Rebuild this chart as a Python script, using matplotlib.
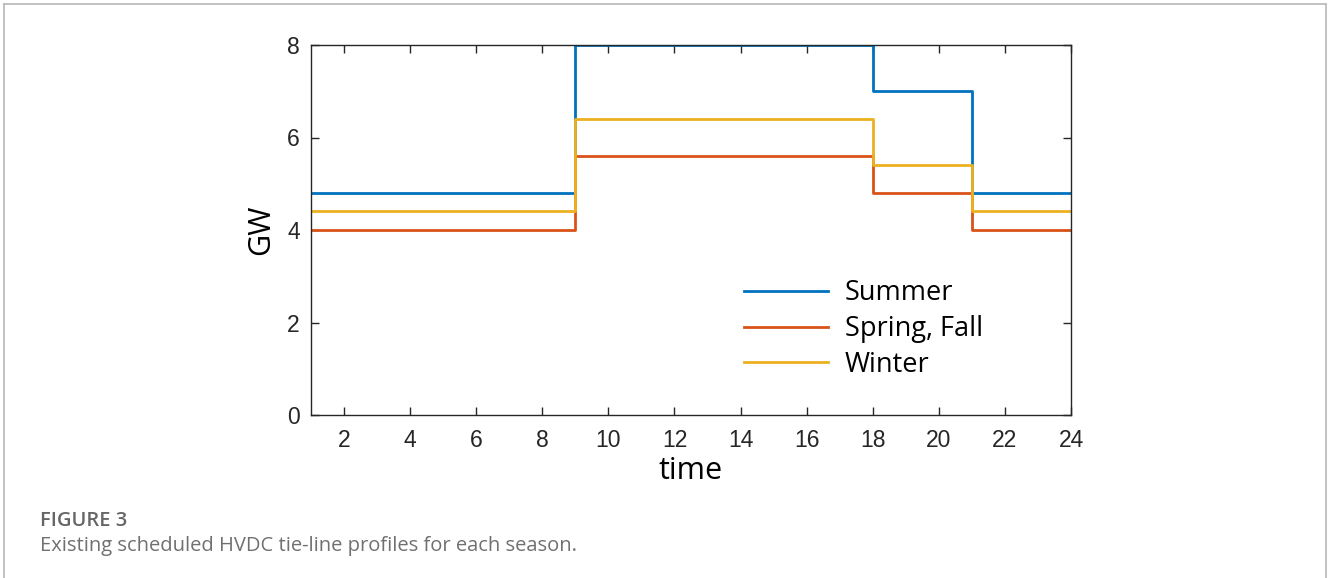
import matplotlib
matplotlib.use("Agg")
import matplotlib.pyplot as plt
from matplotlib.lines import Line2D
import numpy as np

# Hourly scheduled HVDC tie-line power (GW), hours 1..24
hours = list(range(1, 25))
summer = [4.8] * 8 + [8.0] * 9 + [7.0] * 3 + [4.8] * 4
spring_fall = [4.0] * 8 + [5.6] * 9 + [4.8] * 3 + [4.0] * 4
winter = [4.4] * 8 + [6.4] * 9 + [5.4] * 3 + [4.4] * 4

series_labels = ["Summer", "Spring, Fall", "Winter"]
series_colors = ["#0072BD", "#D95319", "#EDB120"]
x_ticks = [2, 4, 6, 8, 10, 12, 14, 16, 18, 20, 22, 24]
y_ticks = [0, 2, 4, 6, 8]

W, H = 1328, 578
fig = plt.figure(figsize=(W / 100, H / 100), dpi=100)

# page frame around the figure panel
frame_col = "#b8b8b8"
fig.add_artist(Line2D([4 / W, 1326 / W], [1 - 4 / H, 1 - 4 / H], transform=fig.transFigure, color=frame_col, lw=1.2))
fig.add_artist(Line2D([4 / W, 4 / W], [0, 1 - 4 / H], transform=fig.transFigure, color=frame_col, lw=1.2))
fig.add_artist(Line2D([1326 / W, 1326 / W], [0, 1 - 4 / H], transform=fig.transFigure, color=frame_col, lw=1.2))

ax = fig.add_axes([311 / W, 1 - 415 / H, (1071 - 311) / W, (415 - 45) / H])

for vals, lab, col in zip([summer, spring_fall, winter], series_labels, series_colors):
    ax.plot(hours, vals, drawstyle="steps-post", color=col, lw=2.0, label=lab)

ax.set_xlim(1, 24)
ax.set_ylim(0, 8)
ax.set_xticks(x_ticks)
ax.set_yticks(y_ticks)

axis_col = "#262626"
for s in ax.spines.values():
    s.set_color(axis_col)
    s.set_linewidth(1.0)
ax.tick_params(direction="in", top=True, right=True, length=6, width=1.0,
               color=axis_col, labelcolor=axis_col, labelsize=16.5)
ax.tick_params(axis="x", pad=10)
ax.tick_params(axis="y", pad=8)
for lbl in ax.get_xticklabels() + ax.get_yticklabels():
    lbl.set_fontfamily("Liberation Sans")

ax.set_xlabel("time", fontsize=22, family="Open Sans", labelpad=3, color="black")
ax.set_ylabel("GW", fontsize=22, family="Open Sans", labelpad=8, color="black")

leg = ax.legend(loc="lower right", bbox_to_anchor=(0.898, 0.069), frameon=False,
                prop={"family": "Open Sans", "size": 19.5}, handlelength=3.1,
                handletextpad=0.6, labelspacing=0.28, borderaxespad=0)
for t in leg.get_texts():
    t.set_color("black")

fig.text(40 / W, 1 - 521 / H, "FIGURE 3", fontsize=14.5, fontweight="semibold",
         family="Open Sans", color="#666666", va="center", ha="left")
fig.text(40 / W, 1 - 546 / H, "Existing scheduled HVDC tie-line profiles for each season.",
         fontsize=14.5, family="Open Sans", color="#707070", va="center", ha="left")

fig.savefig("out.png", dpi=100)
